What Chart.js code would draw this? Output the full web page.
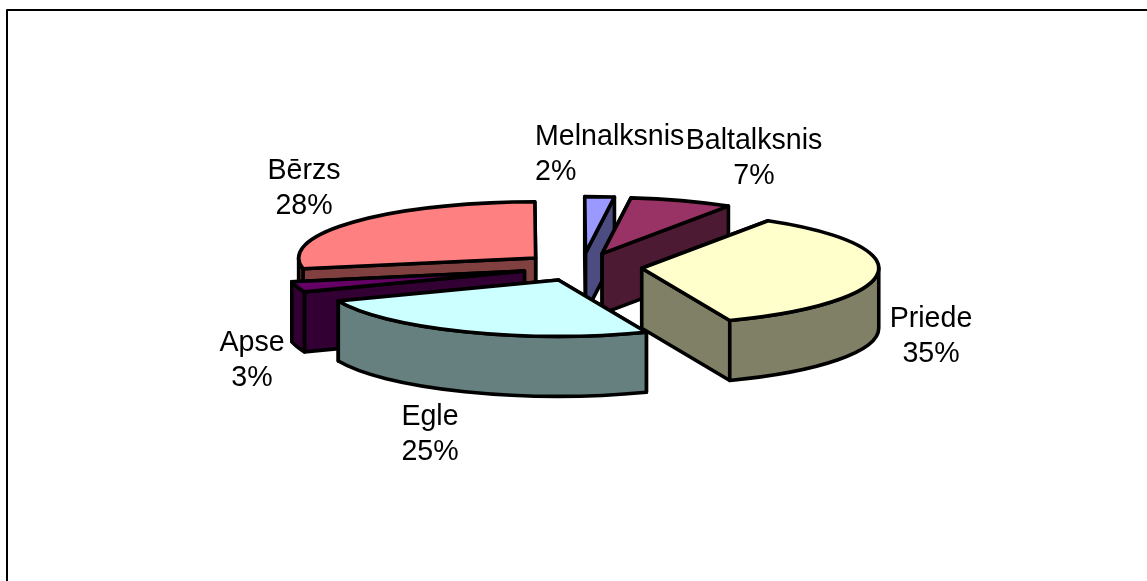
<!DOCTYPE html>
<html><head><meta charset="utf-8">
<style>html,body{margin:0;padding:0;background:#fff}canvas{display:block}</style>
<script src="https://cdn.jsdelivr.net/npm/chart.js@4/dist/chart.umd.min.js"></script>
</head><body><canvas id="c" width="1147" height="581"></canvas>
<script>
const categories = ['Melnalksnis','Baltalksnis','Priede','Egle','Apse','Bērzs'];
const shares = [2,7,35,25,3,28];
const shareLabels = ['2%','7%','35%','25%','3%','28%'];
const topColors = ['#9999FF','#993366','#FFFFCC','#CCFFFF','#660066','#FF8080'];
const wallColors = ['#4C4C80','#4D1A33','#808066','#668080','#330033','#804040'];
const labelAnchors = [[535,145,'left'],[754,149,'center'],[931,327,'center'],[430,425,'center'],[252,351,'center'],[304,179,'center']];

const SQUASH = 0.237, DEPTH = 60, CY = 267, EXPLODE = 240;

const pie3d = {
  id:'pie3d',
  beforeDatasetsDraw(chart){
    const ctx = chart.ctx, meta = chart.getDatasetMeta(0);
    const arcs = meta.data.map((a,i)=>{
      const mid=(a.startAngle+a.endAngle)/2, off=a.options.offset/4;
      return {a,i,cx:a.x+Math.cos(mid)*off,cy:a.y+Math.sin(mid)*off,r:a.outerRadius,s:a.startAngle,e:a.endAngle};
    });
    const base = arcs[0].a.y;
    const X = (g,t)=>g.cx+g.r*Math.cos(t);
    const Y = (g,t,d)=>CY+(g.cy-base+g.r*Math.sin(t))*SQUASH+d;
    const CYs = (g,d)=>CY+(g.cy-base)*SQUASH+d;
    const paint=(fill)=>{ctx.fillStyle=fill;ctx.fill();ctx.strokeStyle='#000';ctx.lineWidth=3.6;ctx.lineJoin='round';ctx.stroke();};
    const quad=(g,t,col)=>{
      ctx.beginPath();
      ctx.moveTo(g.cx,CYs(g,0));ctx.lineTo(X(g,t),Y(g,t,0));
      ctx.lineTo(X(g,t),Y(g,t,DEPTH));ctx.lineTo(g.cx,CYs(g,DEPTH));ctx.closePath();
      paint(col);
    };
    const ell=(g,d,t0,t1,ccw)=>{
      ctx.save();ctx.translate(g.cx,CY+(g.cy-base)*SQUASH+d);ctx.scale(1,SQUASH);
      ctx.arc(0,0,g.r,t0,t1,ccw);ctx.restore();
    };
    arcs.slice().sort((p,q)=>p.cy-q.cy).forEach(g=>{
      const wall=wallColors[g.i];
      const startFront=Math.sin(g.s-Math.PI/2)>0, endFront=Math.sin(g.e+Math.PI/2)>0;
      if(!startFront)quad(g,g.s,wall);
      if(!endFront)quad(g,g.e,wall);
      if(startFront)quad(g,g.s,wall);
      if(endFront)quad(g,g.e,wall);
      for(const k of [-1,0,1]){
        const lo=Math.max(g.s,2*Math.PI*k),hi=Math.min(g.e,2*Math.PI*k+Math.PI);
        if(hi>lo){
          ctx.beginPath();
          ell(g,0,lo,hi,false);
          ell(g,DEPTH,hi,lo,true);
          ctx.closePath();paint(wall);
        }
      }
      ctx.beginPath();
      ctx.moveTo(g.cx,CYs(g,0));
      ell(g,0,g.s,g.e,false);
      ctx.closePath();paint(topColors[g.i]);
    });
    return false;
  },
  afterDraw(chart){
    const ctx=chart.ctx;
    ctx.save();
    ctx.strokeStyle='#000';ctx.lineWidth=2;
    ctx.beginPath();ctx.moveTo(7,581);ctx.lineTo(7,10);ctx.lineTo(1147,10);ctx.stroke();
    ctx.fillStyle='#000';ctx.font='28.6px "Liberation Sans"';ctx.textBaseline='alphabetic';
    categories.forEach((n,i)=>{
      const [x,y,al]=labelAnchors[i];
      ctx.textAlign=al;
      ctx.fillText(n,x,y);
      ctx.fillText(shareLabels[i],x,y+35);
    });
    ctx.restore();
  }
};

new Chart(document.getElementById('c'),{
  type:'pie',
  data:{labels:categories,datasets:[{data:shares,backgroundColor:topColors,offset:EXPLODE,borderWidth:0}]},
  options:{responsive:false,animation:false,radius:237,rotation:-0.2,
    layout:{padding:{left:17}},
    plugins:{legend:{display:false},tooltip:{enabled:false}}},
  plugins:[pie3d]
});
</script></body></html>
